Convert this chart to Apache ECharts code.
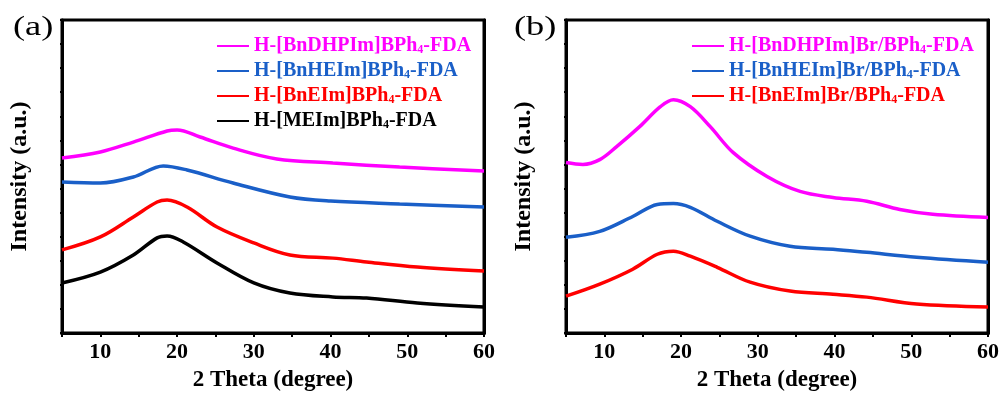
<!DOCTYPE html>
<html>
<head>
<meta charset="utf-8">
<script src="https://cdn.jsdelivr.net/npm/echarts@6/dist/echarts.min.js"></script>
<style>
html,body{margin:0;padding:0;background:#fff;}
#c{width:1001px;height:394px;}
</style>
</head>
<body>
<div id="c"></div>
<script>
// ---- Panel (a) data ----
const aNames = ['H-[BnDHPIm]BPh4-FDA', 'H-[BnHEIm]BPh4-FDA', 'H-[BnEIm]BPh4-FDA', 'H-[MEIm]BPh4-FDA'];
const aMagX = [5, 10, 14.3, 18.7, 20, 23, 27.3, 33, 40.3, 49, 60];
const aMagY = [7.27, 7.52, 7.93, 8.39, 8.43, 8.14, 7.68, 7.23, 7.06, 6.89, 6.73];
const aBluX = [5, 10, 14.3, 18.2, 21.3, 27.3, 34.7, 40, 49, 60];
const aBluY = [6.27, 6.23, 6.48, 6.94, 6.77, 6.23, 5.65, 5.48, 5.36, 5.23];
const aRedX = [5, 10, 14.3, 17.4, 18.7, 21.3, 25.2, 30, 34.7, 40.3, 44.7, 51.3, 60];
const aRedY = [3.45, 3.99, 4.82, 5.44, 5.52, 5.23, 4.40, 3.74, 3.24, 3.11, 2.95, 2.74, 2.57];
const aBlkX = [5, 10, 14.3, 17.4, 18.7, 20.8, 25.2, 30, 34.7, 40.3, 44.7, 51.3, 60];
const aBlkY = [2.08, 2.53, 3.24, 3.95, 4.03, 3.78, 2.91, 2.08, 1.66, 1.50, 1.45, 1.25, 1.08];

// ---- Panel (b) data ----
const bNames = ['H-[BnDHPIm]Br/BPh4-FDA', 'H-[BnHEIm]Br/BPh4-FDA', 'H-[BnEIm]Br/BPh4-FDA'];
const bMagX = [5, 7.2, 9.4, 11.6, 14.6, 17.3, 19, 21.2, 23.8, 26.8, 31.2, 35.5, 39.8, 44.2, 48.5, 52.8, 60];
const bMagY = [7.08, 7.00, 7.20, 7.74, 8.57, 9.40, 9.69, 9.40, 8.57, 7.49, 6.50, 5.88, 5.63, 5.47, 5.13, 4.93, 4.80];
const bBluX = [5, 9.4, 13.7, 16.9, 19, 21.2, 24.7, 29, 34.2, 39.8, 44.2, 50.7, 60];
const bBluY = [3.98, 4.22, 4.84, 5.34, 5.38, 5.22, 4.64, 4.02, 3.60, 3.48, 3.35, 3.15, 2.94];
const bRedX = [5, 9.4, 13.7, 16.9, 19, 21.2, 24.7, 29, 34.2, 39.8, 44.2, 50.7, 60];
const bRedY = [1.53, 2.03, 2.65, 3.27, 3.40, 3.19, 2.73, 2.11, 1.74, 1.61, 1.49, 1.20, 1.08];

const xTicks = [10, 20, 30, 40, 50, 60];
const colors = ['#ff00ff', '#1a5fc8', '#ff0000', '#000000'];

const FONT = '"Liberation Serif","Times New Roman",serif';

function zip(xs, ys) { return xs.map((x, i) => [x, ys[i]]); }

const chart = echarts.init(document.getElementById('c'), null, {renderer: 'canvas'});

const grids = [
  {left: 62, top: 20, width: 422, height: 313, show: true, borderColor: '#000', borderWidth: 3, containLabel: false, outerBoundsMode: 'none'},
  {left: 566, top: 20, width: 422, height: 313, show: true, borderColor: '#000', borderWidth: 3, containLabel: false, outerBoundsMode: 'none'}
];

function xAxisFor(gi) {
  return {
    type: 'value', gridIndex: gi, min: 5, max: 60, interval: 5,
    name: '2 Theta (degree)', nameLocation: 'middle', nameGap: 36,
    nameTextStyle: {fontFamily: FONT, fontWeight: 'bold', fontSize: 23, color: '#000'},
    axisLine: {show: true, lineStyle: {color: '#000', width: 3}},
    axisTick: {show: true, length: 4, lineStyle: {color: '#000', width: 2}},
    axisLabel: {
      margin: 8, fontFamily: FONT, fontWeight: 'bold', fontSize: 22, color: '#000',
      formatter: v => xTicks.indexOf(v) >= 0 ? String(v) : ''
    },
    splitLine: {show: false}
  };
}
function yAxisFor(gi) {
  return {
    type: 'value', gridIndex: gi, min: 0, max: 13, interval: 1,
    name: 'Intensity (a.u.)', nameLocation: 'middle', nameGap: 30,
    nameTextStyle: {fontFamily: FONT, fontWeight: 'bold', fontSize: 24, color: '#000'},
    axisLine: {show: true, lineStyle: {color: '#000', width: 3}},
    axisTick: {show: true, length: 2, lineStyle: {color: '#000', width: 2}},
    axisLabel: {show: false},
    splitLine: {show: false}
  };
}
function yAxisRight(gi) {
  return {
    type: 'value', gridIndex: gi, min: 0, max: 13, interval: 1, position: 'right',
    axisLine: {show: true, lineStyle: {color: '#000', width: 3}},
    axisTick: {show: true, length: 2, lineStyle: {color: '#000', width: 2}},
    axisLabel: {show: false}, splitLine: {show: false}
  };
}
function xAxisTop(gi) {
  return {
    type: 'value', gridIndex: gi, min: 5, max: 60, interval: 5, position: 'top',
    axisLine: {show: true, lineStyle: {color: '#000', width: 3}},
    axisTick: {show: true, inside: true, length: 2, lineStyle: {color: '#000', width: 1}},
    axisLabel: {show: false}, splitLine: {show: false}
  };
}

function lineSeries(name, xi, yi, xs, ys, color) {
  return {
    name: name, type: 'line', xAxisIndex: xi, yAxisIndex: yi,
    data: zip(xs, ys), smooth: 0.35, showSymbol: false, symbol: 'none',
    lineStyle: {color: color, width: 3.5}, itemStyle: {color: color},
    emphasis: {disabled: true}, animation: false
  };
}

const legendFmt = n => n.replace('BPh4', 'BPh{s|4}');
const legendRich = {s: {fontSize: 12, fontFamily: FONT, fontWeight: 'bold', verticalAlign: 'bottom', lineHeight: 14, padding: [6, 0, 0, 0]}};

function legendFor(names, left, top) {
  return {
    orient: 'vertical', left: left, top: top, itemGap: 5,
    icon: 'rect', itemWidth: 32, itemHeight: 2,
    selectedMode: false,
    data: names.map((n, i) => ({name: n, textStyle: {color: colors[i]}})),
    formatter: legendFmt,
    textStyle: {fontFamily: FONT, fontWeight: 'bold', fontSize: 20, padding: [0, 0, 0, 0], rich: legendRich}
  };
}

const option = {
  backgroundColor: '#fff',
  animation: false,
  grid: grids,
  xAxis: [xAxisFor(0), xAxisFor(1), xAxisTop(0), xAxisTop(1)],
  yAxis: [yAxisFor(0), yAxisFor(1), yAxisRight(0), yAxisRight(1)],
  legend: [legendFor(aNames, 212, 31), legendFor(bNames, 687, 31)],
  graphic: [
    {type: 'text', x: 13, y: 14, scaleX: 1.3, style: {text: '(a)', font: '28px ' + FONT, fill: '#000'}},
    {type: 'text', x: 514, y: 14, scaleX: 1.3, style: {text: '(b)', font: '28px ' + FONT, fill: '#000'}}
  ],
  series: [
    lineSeries(aNames[0], 0, 0, aMagX, aMagY, colors[0]),
    lineSeries(aNames[1], 0, 0, aBluX, aBluY, colors[1]),
    lineSeries(aNames[2], 0, 0, aRedX, aRedY, colors[2]),
    lineSeries(aNames[3], 0, 0, aBlkX, aBlkY, colors[3]),
    lineSeries(bNames[0], 1, 1, bMagX, bMagY, colors[0]),
    lineSeries(bNames[1], 1, 1, bBluX, bBluY, colors[1]),
    lineSeries(bNames[2], 1, 1, bRedX, bRedY, colors[2])
  ]
};
chart.setOption(option);
</script>
</body>
</html>
